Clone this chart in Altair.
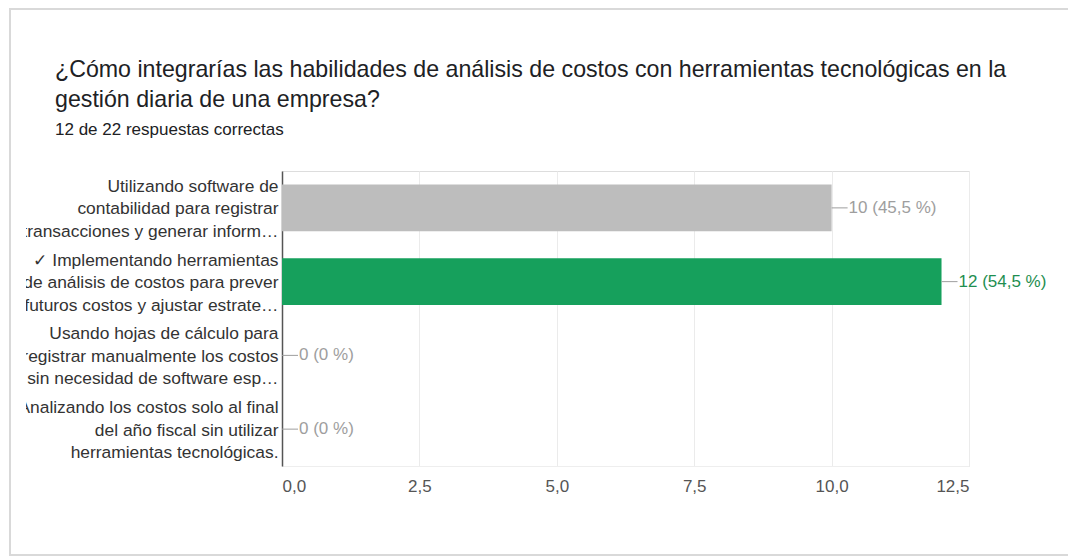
import altair as alt
import pandas as pd

categories = [
    "Utilizando software de\ncontabilidad para registrar\ntransacciones y generar inform…",
    "✓ Implementando herramientas\nde análisis de costos para prever\nfuturos costos y ajustar estrate…",
    "Usando hojas de cálculo para\nregistrar manualmente los costos\nsin necesidad de software esp…",
    "Analizando los costos solo al final\ndel año fiscal sin utilizar\nherramientas tecnológicas.",
]
counts = [10, 12, 0, 0]
value_labels = ["10 (45,5 %)", "12 (54,5 %)", "0 (0 %)", "0 (0 %)"]
correct = [False, True, False, False]
x_ticks = [0, 2.5, 5, 7.5, 10, 12.5]

title_line1 = " ¿Cómo integrarías las habilidades de análisis de costos con herramientas tecnológicas en la"
title_line2 = "gestión diaria de una empresa?"
subtitle = "12 de 22 respuestas correctas"

df = pd.DataFrame({
    "cat": categories,
    "count": counts,
    "label": value_labels,
    "correct": correct,
})

FONT = "Liberation Sans"
W, H = 687, 295
PAD_L, PAD_T = 274, 163

y_enc = alt.Y(
    "cat:N", sort=categories, title=None,
    scale=alt.Scale(paddingInner=0.365, paddingOuter=0.1825),
    axis=alt.Axis(
        labelExpr="split(datum.label, '\\n')",
        labelFont=FONT, labelFontSize=17.4, labelColor="#333333",
        labelLineHeight=22.5, labelPadding=4, labelLimit=600, labelOffset=-21,
        ticks=False, domainColor="#555555", domainWidth=1.5,
        grid=False,
    ),
)

x_enc = alt.X(
    "count:Q", title=None,
    scale=alt.Scale(domain=[0, 12.5], nice=False),
    axis=alt.Axis(
        values=x_ticks,
        labelExpr="replace(format(datum.value, '.1f'), '.', ',')",
        labelFont=FONT, labelFontSize=17, labelColor="#555555",
        labelPadding=12, ticks=False, domainColor="#eeeeee",
        gridColor="#ebebeb", gridWidth=1,
    ),
)

color_scale = alt.Scale(domain=[False, True], range=["#bdbdbd", "#16a05c"])
text_scale = alt.Scale(domain=[False, True], range=["#9e9e9e", "#1e8e50"])

one = pd.DataFrame({"k": [0]})

# white strip that clips the long category labels at the card's inner edge
clip_strip = alt.Chart(one).mark_rect(fill="white").encode(
    x=alt.value(-PAD_L + 3), x2=alt.value(-256),
    y=alt.value(-5), y2=alt.value(H + 5),
)

card = alt.Chart(one).mark_rect(
    filled=False, stroke="#d9d9d9", strokeWidth=2
).encode(
    x=alt.value(-PAD_L + 2), x2=alt.value(W + 200),
    y=alt.value(-PAD_T + 1), y2=alt.value(H + 89),
)

def title_text(txt, y, size):
    return alt.Chart(one).mark_text(
        align="left", baseline="middle", font=FONT, fontSize=size, color="#202124"
    ).encode(x=alt.value(-227), y=alt.value(y), text=alt.value(txt))

t1 = title_text(title_line1, -101, 23.2)
t2 = title_text(title_line2, -71, 23.2)
t3 = title_text(subtitle, -41, 17)

bars = alt.Chart(df).mark_bar().encode(
    y=y_enc,
    x=x_enc,
    color=alt.Color("correct:N", scale=color_scale, legend=None),
)

ticks = alt.Chart(df).mark_rule(color="#9e9e9e", x2Offset=16, strokeWidth=1).encode(
    y=alt.Y("cat:N", sort=categories),
    x=alt.X("count:Q"),
    x2=alt.X2("count:Q"),
)

texts = alt.Chart(df).mark_text(
    align="left", baseline="middle", dx=17, font=FONT, fontSize=17
).encode(
    y=alt.Y("cat:N", sort=categories),
    x=alt.X("count:Q"),
    text="label:N",
    color=alt.Color("correct:N", scale=text_scale, legend=None),
)

chart = alt.layer(clip_strip, card, t1, t2, t3, bars, ticks, texts).resolve_scale(color="independent").properties(
    width=W, height=H,
    autosize=alt.AutoSizeParams(type="none"),
    padding={"left": PAD_L, "top": PAD_T, "right": 99, "bottom": 93},
).configure_view(stroke="#ebebeb", strokeWidth=1).configure(background="white")

chart.save("out.html", embed_options={"renderer": "svg", "actions": False})
